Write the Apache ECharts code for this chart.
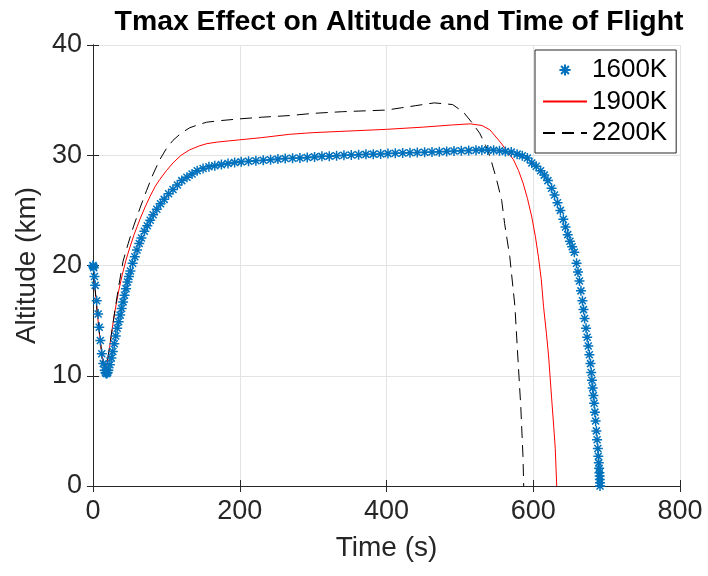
<!DOCTYPE html>
<html>
<head>
<meta charset="utf-8">
<script src="https://cdn.jsdelivr.net/npm/echarts@6/dist/echarts.min.js"></script>
<style>html,body{margin:0;padding:0;background:#fff;}#c{width:708px;height:576px;}</style>
</head>
<body>
<div id="c"></div>
<script>
// ---- Data ----
const seriesNames = ['1600K', '1900K', '2200K'];
const xTicks = [0, 200, 400, 600, 800];
const yTicks = [0, 10, 20, 30, 40];

const t1600 = [0,0.5,1,2,3,5,7,8.5,10,12,14,16,17,18,19,20,21,23,25,27,29,31,33,35,37,39,41,43,45,47,49,51,54,57,60,63,66,70,74,78,82,87,92,97,103,109,115,121,128,135,142,150,158,166,175,184,193,202,212,222,232,242,252,262,272,282,292,302,312,322,332,342,352,362,372,382,392,402,412,422,432,442,452,462,472,482,492,502,512,522,530,538,546,554,562,570,578,585,592,598,604,610,615,620,625,629,633,637,641,644,647,650,653,656,659,661,663,665,667,668.5,670,672,673.5,675,676.5,678,679,680,681,682,683,684,685,686,687,688,688.7,689.3,689.8,690.2,690.5,690.7,690.9,691];
const a1600 = [20,19.9,19.8,19.0,18.2,16.8,15.6,14.4,13.2,12.0,11.1,10.5,10.3,10.2,10.2,10.3,10.5,11.0,11.6,12.2,12.9,13.6,14.3,14.9,15.5,16.1,16.7,17.3,17.9,18.5,19.0,19.5,20.2,20.8,21.4,22.0,22.5,23.1,23.6,24.1,24.6,25.1,25.6,26.0,26.5,26.9,27.3,27.7,28.0,28.3,28.6,28.8,28.95,29.05,29.15,29.25,29.35,29.4,29.45,29.5,29.55,29.6,29.65,29.7,29.72,29.75,29.8,29.85,29.9,29.92,29.95,30.0,30.02,30.05,30.08,30.1,30.12,30.15,30.18,30.2,30.22,30.25,30.28,30.3,30.32,30.35,30.38,30.4,30.42,30.45,30.47,30.48,30.45,30.4,30.35,30.3,30.1,29.95,29.75,29.3,29.0,28.6,28.2,27.7,27.0,26.4,25.7,25.0,24.2,23.5,22.8,22.2,21.7,21.2,20.2,19.4,18.6,17.7,16.8,16.0,15.2,14.3,13.5,12.7,11.9,11.1,10.3,9.6,8.9,8.2,7.5,6.7,5.9,5.0,4.2,3.4,2.7,2.1,1.6,1.2,0.9,0.6,0.3,0];

const t1900 = [0,3,6,9,12,15,17,19,22,26,30,35,40,45,50,56,64,71,78,85,91,100,109,120,132,145,155,170,185,200,230,268,300,350,400,450,490,514,530,541,555,565,573,580,586,592,598,603,607,611,614,618,621,625,628,630,632];
const a1900 = [20,17.8,15.6,13.7,12.0,10.8,10.5,11.0,12.3,14.2,15.9,17.7,19.2,20.5,21.6,22.8,24.2,25.3,26.3,27.2,27.8,28.6,29.3,30.0,30.5,30.85,31.05,31.2,31.3,31.4,31.6,31.9,32.05,32.2,32.35,32.55,32.75,32.85,32.7,32.3,31.2,30.3,29.6,28.6,27.5,26.1,24.4,22.6,20.8,18.7,16.3,13.8,11.7,8.0,5.3,3.4,0];

const t2200 = [0,3,6,9,12,15,17,20,25,30,35,41,48,55,64,73,82,91,100,109,120,132,145,155,175,200,230,268,300,340,380,400,420,440,465,490,505,516,527,535,541,550,557,561,568,575,579,583,586,587];
const a2200 = [20,17.8,15.6,13.7,12.0,10.8,10.6,11.5,13.7,16.0,18.1,20.4,22.0,23.5,25.2,26.8,28.3,29.6,30.6,31.35,32.0,32.5,32.8,33.0,33.15,33.3,33.45,33.6,33.8,33.95,34.05,34.1,34.3,34.5,34.75,34.6,33.9,33.0,32.0,30.9,29.9,27.8,25.9,23.8,20.8,16.3,11.7,7.2,2.7,0];

const zip = (t, a) => t.map((v, i) => [v, a[i]]);

const FONT = 'Liberation Sans';
const DARK = '#262626';
const star = 'path://M5,0L5,10M0,5L10,5M1.5,1.5L8.5,8.5M1.5,8.5L8.5,1.5';

const chart = echarts.init(document.getElementById('c'), null, {renderer: 'canvas'});
const axisCommon = {
  axisLine: {show: true, lineStyle: {color: DARK, width: 1}},
  axisTick: {show: true, inside: true, length: 6, lineStyle: {color: DARK}},
};
chart.setOption({
  animation: false,
  backgroundColor: '#fff',
  title: {
    text: 'Tmax Effect on Altitude and Time of Flight',
    left: 394, top: 3, textAlign: 'center',
    textStyle: {fontFamily: FONT, fontWeight: 'bold', fontSize: 28.4, color: '#000'}
  },
  grid: {left: 93, right: 28, top: 45, bottom: 90, containLabel: false},
  legend: {
    data: [
      {name: seriesNames[0]},
      {name: seriesNames[1], itemStyle: {opacity: 0}},
      {name: seriesNames[2], itemStyle: {opacity: 0}}
    ],
    orient: 'vertical', left: 535, top: 50,
    padding: [7, 9, 7, 7],
    itemWidth: 44, itemHeight: 14, itemGap: 5.5,
    backgroundColor: '#fff', borderColor: DARK, borderWidth: 1,
    textStyle: {fontFamily: FONT, fontSize: 26, color: '#000', lineHeight: 26}
  },
  xAxis: [{
    type: 'value', min: 0, max: 800, interval: 200,
    name: 'Time (s)', nameLocation: 'middle', nameGap: 48,
    nameTextStyle: {fontFamily: FONT, fontSize: 28, color: DARK},
    axisLabel: {fontFamily: FONT, fontSize: 27, color: DARK, margin: 12},
    splitLine: {show: true, lineStyle: {color: '#e3e3e3', width: 1}},
    ...axisCommon
  }, {
    type: 'value', min: 0, max: 800, interval: 200, position: 'top',
    axisLabel: {show: false}, splitLine: {show: false}, ...axisCommon
  }],
  yAxis: [{
    type: 'value', min: 0, max: 40, interval: 10,
    name: 'Altitude (km)', nameLocation: 'middle', nameGap: 49,
    nameTextStyle: {fontFamily: FONT, fontSize: 28, color: DARK},
    axisLabel: {fontFamily: FONT, fontSize: 27, color: DARK, margin: 11},
    splitLine: {show: true, lineStyle: {color: '#e3e3e3', width: 1}},
    ...axisCommon
  }, {
    type: 'value', min: 0, max: 40, interval: 10, position: 'right',
    axisLabel: {show: false}, splitLine: {show: false}, ...axisCommon
  }],
  series: [{
    name: seriesNames[0], type: 'line', data: zip(t1600, a1600),
    symbol: star, symbolSize: 10, showSymbol: true, showAllSymbol: true,
    lineStyle: {width: 0, opacity: 0},
    itemStyle: {color: '#0072BD', borderColor: '#0072BD', borderWidth: 1.5},
    emphasis: {disabled: true}, z: 3
  }, {
    name: seriesNames[1], type: 'line', data: zip(t1900, a1900),
    symbol: 'none', smooth: false,
    lineStyle: {color: '#FF0000', width: 1},
    itemStyle: {color: '#FF0000'},
    emphasis: {disabled: true}, z: 2
  }, {
    name: seriesNames[2], type: 'line', data: zip(t2200, a2200),
    symbol: 'none',
    lineStyle: {color: '#000000', width: 1, type: [12, 7]},
    itemStyle: {color: '#000000'},
    emphasis: {disabled: true}, z: 2
  }]
});
</script>
</body>
</html>
